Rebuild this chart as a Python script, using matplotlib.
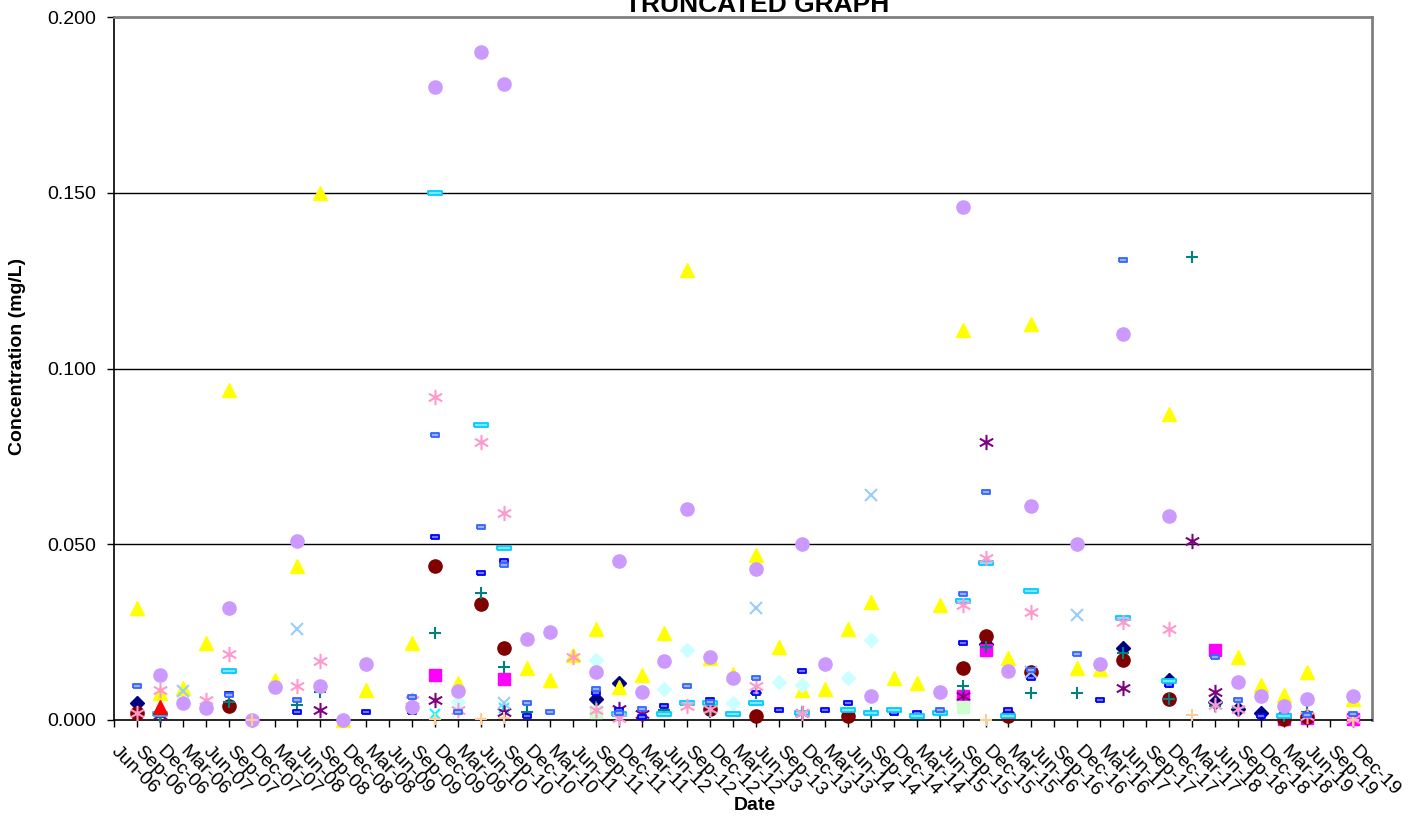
import matplotlib.pyplot as plt
from matplotlib.path import Path
from matplotlib.ticker import FormatStrFormatter

plt.rcParams['font.family'] = ['Liberation Sans', 'DejaVu Sans']

dates = ['Jun-06', 'Sep-06', 'Dec-06', 'Mar-06',
         'Jun-07', 'Sep-07', 'Dec-07', 'Mar-07',
         'Jun-08', 'Sep-08', 'Dec-08', 'Mar-08',
         'Jun-09', 'Sep-09', 'Dec-09', 'Mar-09',
         'Jun-10', 'Sep-10', 'Dec-10', 'Mar-10',
         'Jun-11', 'Sep-11', 'Dec-11', 'Mar-11',
         'Jun-12', 'Sep-12', 'Dec-12', 'Mar-12',
         'Jun-13', 'Sep-13', 'Dec-13', 'Mar-13',
         'Jun-14', 'Sep-14', 'Dec-14', 'Mar-14',
         'Jun-15', 'Sep-15', 'Dec-15', 'Mar-15',
         'Jun-16', 'Sep-16', 'Dec-16', 'Mar-16',
         'Jun-17', 'Sep-17', 'Dec-17', 'Mar-17',
         'Jun-18', 'Sep-18', 'Dec-18', 'Mar-18',
         'Jun-19', 'Sep-19', 'Dec-19']

# sample positions (index into dates) and concentrations, one pair per analyte
navy_x = [1, 21, 22, 38, 44, 46, 48, 49, 50]
navy_y = [0.0047, 0.0059, 0.0104, 0.0215, 0.0204, 0.0114, 0.0052, 0.0030, 0.0019]

magenta_x = [14, 17, 37, 38, 48, 51, 52, 54]
magenta_y = [0.0128, 0.0116, 0.0068, 0.0199, 0.0199, 0.0003, 0.0005, 0.0003]

yellow_x = [1, 2, 3, 4, 5, 7, 8, 9, 10, 11, 13, 15, 18, 19, 20, 21, 22, 23, 24, 25,
            26, 27, 28, 29, 30, 31, 32, 33, 34, 35, 36, 37, 39, 40, 42, 43, 46, 49,
            50, 51, 52, 54]
yellow_y = [0.0318, 0.0077, 0.0091, 0.0218, 0.0939, 0.0114, 0.0438, 0.150, 0.0, 0.0085,
            0.0218, 0.0105, 0.0147, 0.0114, 0.0185, 0.0258, 0.0095, 0.0128, 0.0248, 0.128,
            0.0175, 0.0130, 0.0468, 0.0209, 0.0085, 0.0088, 0.0258, 0.0337, 0.0119, 0.0106,
            0.0327, 0.1109, 0.0177, 0.1128, 0.0147, 0.0145, 0.087, 0.018,
            0.0100, 0.0071, 0.0137, 0.006]

cyanx_x = [14, 17]
cyanx_y = [0.0016, 0.0033]

purple_x = [2, 9, 14, 17, 22, 23, 30, 37, 38, 44, 47, 48]
purple_y = [0.0013, 0.0028, 0.0057, 0.0024, 0.0030, 0.0018, 0.0019, 0.0068, 0.079,
            0.0090, 0.0509, 0.0081]

maroon_x = [1, 5, 14, 16, 17, 26, 28, 32, 37, 38, 39, 40, 44, 46, 51, 52]
maroon_y = [0.0019, 0.0040, 0.0438, 0.0329, 0.0206, 0.0030, 0.0011, 0.0010, 0.0149,
            0.0239, 0.0010, 0.0137, 0.0171, 0.0059, 0.0003, 0.0008]

teal_x = [2, 5, 8, 9, 14, 16, 17, 18, 21, 24, 26, 28, 30, 33, 36, 37, 38, 40, 42, 44,
          46, 47, 48, 49, 51, 52]
teal_y = [0.0010, 0.0052, 0.0043, 0.0081, 0.0248, 0.0360, 0.0150, 0.0024, 0.0038,
          0.0028, 0.0022, 0.0076, 0.0020, 0.0019, 0.0019, 0.0097, 0.0209, 0.0078,
          0.0078, 0.0190, 0.0059, 0.1318, 0.0040, 0.0035, 0.0010, 0.0024]

blue_x = [5, 8, 11, 13, 14, 16, 17, 18, 21, 22, 23, 24, 26, 28, 29, 30, 31, 32, 34, 35,
          37, 39, 40, 43, 46, 50, 51]
blue_y = [0.0075, 0.0024, 0.0024, 0.0024, 0.052, 0.0419, 0.0453, 0.0012, 0.0078,
          0.0028, 0.0009, 0.0040, 0.0057, 0.0078, 0.0028, 0.0139, 0.0028, 0.0047,
          0.0019, 0.0019, 0.0218, 0.0028, 0.0119, 0.0057, 0.0100, 0.0010, 0.0014]

skyblue_x = [2, 5, 14, 16, 17, 22, 24, 25, 26, 27, 28, 30, 32, 33, 34, 35, 36, 37, 38,
             39, 40, 44, 46, 51]
skyblue_y = [0.0017, 0.0139, 0.150, 0.0839, 0.0489, 0.0017, 0.0017, 0.0048, 0.0048,
             0.0017, 0.0047, 0.0019, 0.0028, 0.0019, 0.0028, 0.0010, 0.0019, 0.0338,
             0.0448, 0.0010, 0.0368, 0.0289, 0.0110, 0.0010]

icediamond_x = [15, 21, 24, 25, 27, 29, 30, 32, 33]
icediamond_y = [0.0052, 0.0171, 0.0088, 0.0199, 0.0049, 0.0109, 0.0100, 0.0119, 0.0228]

mint_x = [21, 37]
mint_y = [0.0024, 0.0038]

paleblue_x = [3, 8, 17, 28, 33, 40, 42]
paleblue_y = [0.0082, 0.0259, 0.0047, 0.0318, 0.064, 0.0137, 0.0299]

pink_x = [1, 2, 4, 5, 8, 9, 13, 14, 15, 16, 17, 20, 21, 22, 25, 26, 28, 30, 37, 38, 40,
          44, 46, 48, 49, 52, 54]
pink_y = [0.0019, 0.0085, 0.0057, 0.0187, 0.0098, 0.0168, 0.0057, 0.092, 0.0028,
          0.0791, 0.0589, 0.018, 0.0028, 0.0005, 0.0040, 0.0030, 0.0097, 0.0019,
          0.0327, 0.046, 0.0308, 0.0280, 0.0258, 0.0043, 0.0030, 0.0010, 0.0003]

lavender_x = [2, 3, 4, 5, 6, 7, 8, 9, 10, 11, 13, 14, 15, 16, 17, 18, 19, 21, 22, 23, 24,
              25, 26, 27, 28, 30, 31, 33, 36, 37, 39, 40, 42, 43, 44, 46, 49, 50, 51, 52,
              54]
lavender_y = [0.0128, 0.0047, 0.0033, 0.0318, 0.0, 0.0093, 0.0509, 0.0098, 0.0, 0.0159,
              0.0038, 0.180, 0.0082, 0.190, 0.181, 0.0230, 0.0251, 0.0137, 0.0453,
              0.0079, 0.0169, 0.0600, 0.0178, 0.0119, 0.0429, 0.0500, 0.0159, 0.0068,
              0.0081, 0.1459, 0.0139, 0.0610, 0.0500, 0.0159, 0.1098, 0.058, 0.0109,
              0.0068, 0.0040, 0.0059, 0.0068]

peach_x = [6, 14, 16, 17, 38, 47, 54]
peach_y = [0.0, 0.0002, 0.0002, 0.0005, 0.0, 0.0014, 0.0]

royal_x = [1, 5, 8, 13, 14, 15, 16, 17, 18, 19, 21, 22, 23, 25, 26, 28, 36, 37, 38, 40,
           42, 44, 48, 49, 52, 54]
royal_y = [0.0098, 0.0070, 0.0057, 0.0066, 0.0811, 0.0024, 0.0549, 0.0441, 0.0047,
           0.0024, 0.0087, 0.0020, 0.0031, 0.0098, 0.0050, 0.0119, 0.0028, 0.0358,
           0.065, 0.0142, 0.0188, 0.1308, 0.018, 0.0057, 0.0014, 0.0017]

red_x = [2]
red_y = [0.0038]

# Excel-style marker shapes
asterisk = Path([(0, -1), (0, 1), (-0.87, -0.5), (0.87, 0.5), (-0.87, 0.5), (0.87, -0.5)],
                [Path.MOVETO, Path.LINETO] * 3)
short_dash = Path([(-1, -0.6), (1, -0.6), (1, 0.6), (-1, 0.6), (-1, -0.6)])
long_dash = Path([(-1, -0.32), (1, -0.32), (1, 0.32), (-1, 0.32), (-1, -0.32)])

fig = plt.figure(figsize=(14.23, 8.19), dpi=100)
ax = fig.add_axes([114 / 1423, 1 - 720 / 819, (1372 - 114) / 1423, (720 - 17) / 819])

def draw(xs, ys, marker, size, face, edge, ew=1.0):
    ax.plot(xs, ys, linestyle='none', marker=marker, markersize=size,
            markerfacecolor=face, markeredgecolor=edge, markeredgewidth=ew,
            clip_on=False, zorder=3)

draw(navy_x, navy_y, 'D', 7.5, '#000080', '#000080')
draw(magenta_x, magenta_y, 's', 8.5, '#FF00FF', '#FF00FF')
draw(yellow_x, yellow_y, '^', 9.5, '#FFFF00', '#FFFF00')
draw(cyanx_x, cyanx_y, 'x', 7.5, 'none', '#00FFFF', 1.5)
draw(purple_x, purple_y, asterisk, 11, 'none', '#800080', 1.5)
draw(maroon_x, maroon_y, 'o', 9.5, '#800000', '#800000')
draw(teal_x, teal_y, '+', 8.5, 'none', '#008080', 1.5)
draw(blue_x, blue_y, short_dash, 5.8, '#6f7bff', '#0000FF', 1.3)
draw(skyblue_x, skyblue_y, long_dash, 9.4, '#7fe5ff', '#00CCFF', 1.3)
draw(icediamond_x, icediamond_y, 'D', 7.5, '#CCFFFF', '#CCFFFF')
draw(mint_x, mint_y, 's', 8.5, '#CCFFCC', '#CCFFCC')
draw(paleblue_x, paleblue_y, 'x', 8, 'none', '#99CCFF', 1.5)
draw(pink_x, pink_y, asterisk, 11, 'none', '#FF99CC', 1.5)
draw(lavender_x, lavender_y, 'o', 9.5, '#CC99FF', '#CC99FF')
draw(peach_x, peach_y, '+', 8.5, 'none', '#FFCC99', 1.5)
draw(royal_x, royal_y, short_dash, 5.8, '#99b0ff', '#3366FF', 1.3)
draw(red_x, red_y, '^', 9.5, '#FF0000', '#FF0000')

ax.set_ylim(0, 0.2)
ax.set_xlim(0, 54.85)
ax.set_yticks([0, 0.05, 0.10, 0.15, 0.20])
ax.yaxis.set_major_formatter(FormatStrFormatter('%.3f'))
for gy in [0.05, 0.10, 0.15]:
    ax.axhline(gy, color='black', linewidth=1.0, zorder=1)

ax.set_xticks(range(len(dates)))
ax.set_xticklabels(dates, rotation=-45, ha='left', va='center', rotation_mode='anchor')
ax.tick_params(axis='x', direction='out', length=5, width=1, pad=16, labelsize=14)
ax.tick_params(axis='y', direction='out', length=5, width=1, pad=8, labelsize=14)

for side in ['top', 'right']:
    ax.spines[side].set_color('#808080')
    ax.spines[side].set_linewidth(2)
for side in ['left', 'bottom']:
    ax.spines[side].set_color('black')
    ax.spines[side].set_linewidth(1.2)

fig.text(757 / 1423, 1 - 17 / 819, 'TRUNCATED GRAPH', ha='center', va='bottom',
         fontsize=19, fontweight='bold')
fig.text(755 / 1423, 1 - 806 / 819, 'Date', ha='center', va='center',
         fontsize=14, fontweight='bold')
fig.text(18 / 1423, 1 - 356 / 819, 'Concentration (mg/L)', ha='center', va='center',
         rotation=90, fontsize=14, fontweight='bold')

fig.savefig('out.png', dpi=100)
